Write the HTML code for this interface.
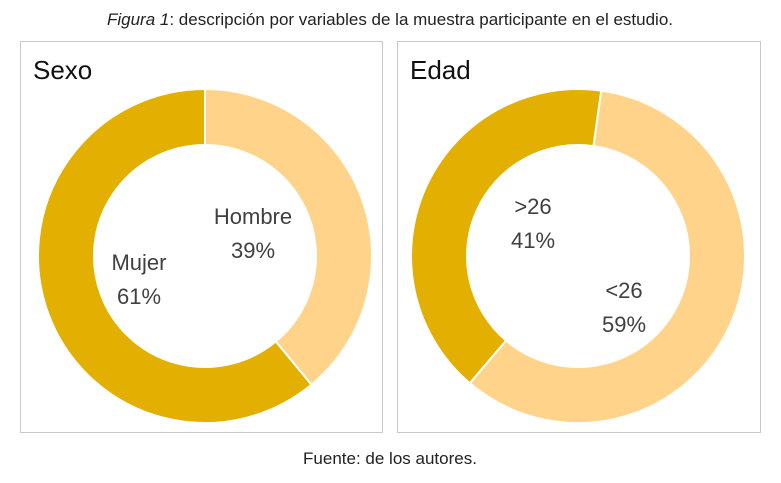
<!DOCTYPE html>
<html><head><meta charset="utf-8"><style>
body{margin:0;background:#fff;width:781px;height:478px;overflow:hidden;font-family:"Liberation Sans",sans-serif}
</style></head><body>
<svg width="781" height="478">
<text x="390" y="25" text-anchor="middle" font-size="17" fill="#222"><tspan font-style="italic">Figura 1</tspan>: descripción por variables de la muestra participante en el estudio.</text>
<rect x="20.5" y="41.5" width="362" height="391" fill="none" stroke="#c8c8c8"/>
<rect x="397.5" y="41.5" width="363" height="391" fill="none" stroke="#c8c8c8"/>
<text x="33" y="79" font-size="26" fill="#111">Sexo</text>
<text x="410" y="79" font-size="26" fill="#111">Edad</text>
<g id="c1"></g><g id="c2"></g>
<text x="390" y="464" text-anchor="middle" font-size="17" fill="#222">Fuente: de los autores.</text>
</svg>
<script>
const sexoCats=["Hombre","Mujer"];
const sexoVals=[39,61];
const edadCats=["<26",">26"];
const edadVals=[59,41];
const NS="http://www.w3.org/2000/svg";
function slug(s){return s.replace("<","lt").replace(">","gt").toLowerCase();}
function esc(s){return s.replace("<","&lt;").replace(">","&gt;");}
function donut(g,cats,vals,cx,cy,start,colors,labels){
  const R=167,r=111,tot=vals.reduce((a,b)=>a+b,0);let a=start;
  vals.forEach((v,i)=>{
    const sw=v/tot*360,a2=a+sw,rad=d=>(d-90)*Math.PI/180;
    const p=(rr,d)=>[cx+rr*Math.cos(rad(d)),cy+rr*Math.sin(rad(d))];
    const L=sw>180?1:0,[x1,y1]=p(R,a),[x2,y2]=p(R,a2),[x3,y3]=p(r,a2),[x4,y4]=p(r,a);
    const nm=slug(cats[i]);
    const path=document.createElementNS(NS,"path");
    path.setAttribute("d",`M${x1},${y1}A${R},${R} 0 ${L} 1 ${x2},${y2}L${x3},${y3}A${r},${r} 0 ${L} 0 ${x4},${y4}Z`);
    path.setAttribute("fill",colors[i]);path.setAttribute("stroke","#fff");path.setAttribute("stroke-width","2");
    
    
    g.appendChild(path);
    const lx=labels[i][0],ly=labels[i][1];
    const t=document.createElementNS(NS,"text");
    t.setAttribute("x",lx);t.setAttribute("y",ly);t.setAttribute("text-anchor","middle");
    t.setAttribute("font-size","22");t.setAttribute("fill","#404040");
    
    
    t.innerHTML=`<tspan x="${lx}">${esc(cats[i])}</tspan><tspan x="${lx}" dy="34">${v}%</tspan>`;
    g.appendChild(t);
    a=a2;
  });
}
donut(document.getElementById("c1"),sexoCats,sexoVals,205,256,0,["#FFD38A","#E3AF00"],[[253,224],[139,270]]);
donut(document.getElementById("c2"),edadCats,edadVals,578,256,8,["#FFD38A","#E3AF00"],[[624,298],[533,214]]);
</script>
</body></html>
